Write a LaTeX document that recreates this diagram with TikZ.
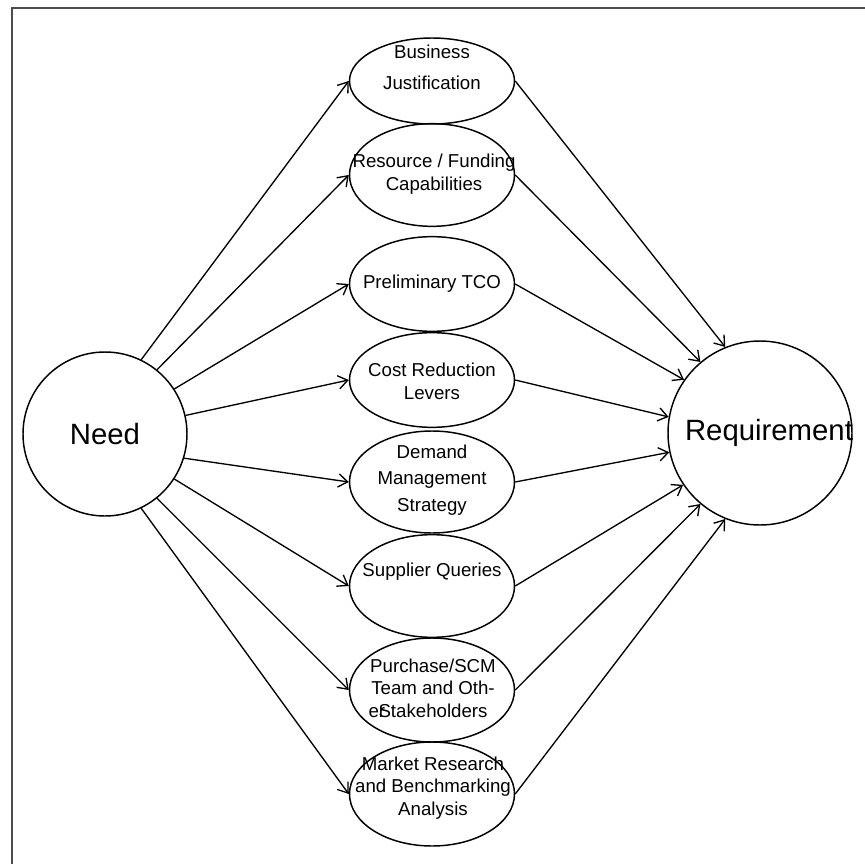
\documentclass[tikz,border=0pt]{standalone}
\usepackage{fontspec}
\setmainfont{Liberation Sans}
\usetikzlibrary{arrows.meta}
\usetikzlibrary{shapes.geometric}

\begin{document}
\begin{tikzpicture}[x=0.75pt,y=-0.75pt]
                \tikzstyle{every node}=[inner sep=0pt]
                \tikzstyle{bubble}=[ellipse,draw,line width=1.1pt,minimum width=123.75pt]
                \tikzstyle{big}=[circle,draw,line width=1.1pt,font=\fontsize{22}{26}\selectfont]
                \tikzstyle{lbl}=[align=center,font=\fontsize{14}{17}\selectfont]
                \tikzstyle{link}=[line width=1pt,-{Straight Barb[length=7pt,width=10pt]}]

                \useasboundingbox (0,0) rectangle (865,864);
                \clip (0,0) rectangle (865,864);
                \draw[black!70,line width=1.1pt] (12,8) rectangle (900,900);

                \node[big,minimum size=123pt] (need) at (105,434) {Need};
                \node[big,minimum size=138pt] (req) at (760,433) {};
                \node[font=\fontsize{22}{26}\selectfont] (req-t) at (769,433) {Requirement};

                \node[bubble,minimum height=64.5pt] (e1) at (432,81) {};
                \node[bubble,minimum height=77pt] (e2) at (432,175) {};
                \node[bubble,minimum height=71pt] (e3) at (432,284) {};
                \node[bubble,minimum height=71pt] (e4) at (432,380) {};
                \node[bubble,minimum height=76.5pt] (e5) at (432,482) {};
                \node[bubble,minimum height=77pt] (e6) at (432,586) {};
                \node[bubble,minimum height=78pt] (e7) at (432,690) {};
                \node[bubble,minimum height=78pt] (e8) at (432,794) {};

                \node[lbl] (t1) at (432,67) {Business\\[6pt]Justification};
                \node[lbl] (t2) at (434,174) {Resource / Funding\\Capabilities};
                \node[lbl] (t3) at (432,284) {Preliminary TCO};
                \node[lbl] (t4) at (432,381) {Cost Reduction\\Levers};
                \node[lbl] (t5) at (432,480) {Demand\\[3pt]Management\\[3pt]Strategy};
                \node[lbl] (t6) at (432,572) {Supplier Queries};
                \node[lbl] (t7) at (433,688) {Purchase/SCM\\Team and Oth-\\\llap{er\hspace{-5pt}}Stakeholders};
                \node[lbl] (t8) at (433,788) {Market Research\\and Benchmarking\\Analysis};

                \foreach \e/\a/\b in {e1/64/112,e2/51/130,e3/33/145,e4/13/170,e5/-17/192,e6/-33/214,e7/-51/230,e8/-64/248} {
                    \draw[link] (need.\a) -- (\e.west);
                    \draw[link] (\e.east) -- (req.\b);
                }
            \end{tikzpicture}
\end{document}
